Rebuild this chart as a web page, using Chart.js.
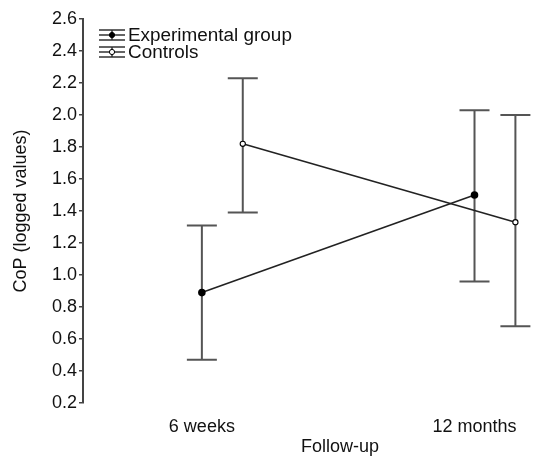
<!DOCTYPE html>
<html>
<head>
<meta charset="utf-8">
<script src="https://cdn.jsdelivr.net/npm/chart.js@4"></script>
<style>
  html, body { margin: 0; padding: 0; background: #fff; }
  #wrap { width: 533px; height: 457px; }
</style>
</head>
<body>
<div id="wrap"><canvas id="grafico-cop"></canvas></div>
<script>
// dados
const followUp = ['6 weeks', '12 months'];
const groupOffset = [0, 0.15];   // deslocamento horizontal de cada grupo
const expMean = [0.89, 1.50];
const expLow = [0.47, 0.96];
const expHigh = [1.31, 2.03];
const ctrlMean = [1.82, 1.33];
const ctrlLow = [1.39, 0.68];
const ctrlHigh = [2.23, 2.00];
const yTicks = [0.2, 0.4, 0.6, 0.8, 1.0, 1.2, 1.4, 1.6, 1.8, 2.0, 2.2, 2.4, 2.6];

const FONT = 'Liberation Sans, Arial, sans-serif';
const ink = '#222';
const barColor = '#555';

function pts(mean, off) {
    return mean.map((v, i) => ({ x: i + off, y: v }));
}

const data = {
    datasets: [
        {
            label: 'Experimental group',
            data: pts(expMean, groupOffset[0]),
            low: expLow, high: expHigh,
            borderColor: ink,
            borderWidth: 1.6,
            pointRadius: 3,
            pointBackgroundColor: '#000',
            pointBorderColor: '#000',
            showLine: true,
            fill: false
        },
        {
            label: 'Controls',
            data: pts(ctrlMean, groupOffset[1]),
            low: ctrlLow, high: ctrlHigh,
            borderColor: ink,
            borderWidth: 1.6,
            pointRadius: 2.6,
            pointBackgroundColor: '#fff',
            pointBorderColor: '#000',
            pointBorderWidth: 1.1,
            showLine: true,
            fill: false
        }
    ]
};

// barras de erro desenhadas com as escalas do grafico
const errorBars = {
    id: 'errorBars',
    beforeDatasetsDraw(chart) {
        const { ctx, scales: { x, y } } = chart;
        ctx.save();
        ctx.strokeStyle = barColor;
        ctx.lineWidth = 2;
        chart.data.datasets.forEach(ds => {
            ds.data.forEach((p, i) => {
                const px = x.getPixelForValue(p.x);
                const yl = y.getPixelForValue(ds.low[i]);
                const yh = y.getPixelForValue(ds.high[i]);
                ctx.beginPath();
                ctx.moveTo(px, yl); ctx.lineTo(px, yh);
                ctx.moveTo(px - 15, yl); ctx.lineTo(px + 15, yl);
                ctx.moveTo(px - 15, yh); ctx.lineTo(px + 15, yh);
                ctx.stroke();
            });
        });
        ctx.restore();
    }
};

// legenda dentro da area + titulo do eixo x
const legendaInterna = {
    id: 'legendaInterna',
    afterDraw(chart) {
        const { ctx } = chart;
        ctx.save();
        ctx.font = '18px ' + FONT;
        ctx.fillStyle = '#111';
        ctx.textBaseline = 'middle';
        chart.data.datasets.forEach((ds, k) => {
            const cy = 35 + k * 17;
            const cx = 112;
            ctx.strokeStyle = '#333';
            ctx.lineWidth = 1.5;
            ctx.beginPath();
            ctx.moveTo(cx - 13, cy - 5); ctx.lineTo(cx + 13, cy - 5);
            ctx.moveTo(cx - 13, cy); ctx.lineTo(cx + 13, cy);
            ctx.moveTo(cx - 13, cy + 5); ctx.lineTo(cx + 13, cy + 5);
            ctx.moveTo(cx, cy - 5); ctx.lineTo(cx, cy + 5);
            ctx.stroke();
            ctx.beginPath();
            ctx.arc(cx, cy, 2.6, 0, Math.PI * 2);
            ctx.fillStyle = ds.pointBackgroundColor;
            ctx.fill();
            ctx.strokeStyle = '#000';
            ctx.lineWidth = 1;
            ctx.stroke();
            ctx.fillStyle = '#111';
            // texto um pouco esticado como no original
            ctx.save();
            ctx.translate(128, cy + 1);
            ctx.scale(1.05, 1);
            ctx.fillText(ds.label, 0, 0);
            ctx.restore();
        });
        ctx.textAlign = 'center';
        ctx.fillText('Follow-up', 340, 447);
        ctx.restore();
    }
};

const options = {
    responsive: true,
    maintainAspectRatio: false,
    animation: false,
    layout: { padding: { top: 19, right: 0, bottom: 0, left: 0 } },
    plugins: {
        legend: { display: false },
        tooltip: { enabled: false }
    },
    scales: {
        x: {
            type: 'linear',
            min: -0.436,
            max: 1.194,
            afterBuildTicks: (s) => { s.ticks = followUp.map((_, i) => ({ value: i })); },
            afterFit: (s) => { s.height = 54; },
            grid: { display: false },
            border: { display: false },
            ticks: {
                color: '#111',
                font: { family: FONT, size: 18 },
                padding: 5,
                maxRotation: 0,
                callback: (v) => followUp[v]
            }
        },
        y: {
            min: 0.2,
            max: 2.6,
            afterBuildTicks: (s) => { s.ticks = yTicks.map(v => ({ value: v })); },
            afterFit: (s) => { s.width = 83; },
            grid: {
                drawOnChartArea: false,
                drawTicks: true,
                tickLength: 4,
                color: '#444',
                lineWidth: 1.5
            },
            border: { display: true, color: '#444', width: 2 },
            ticks: {
                color: '#111',
                font: { family: FONT, size: 18 },
                padding: 2,
                callback: (v) => v.toFixed(1)
            },
            title: {
                display: true,
                text: 'CoP (logged values)',
                color: '#111',
                font: { family: FONT, size: 18 },
                padding: { top: 10, bottom: 0 }
            }
        }
    }
};

new Chart(document.getElementById('grafico-cop'), {
    type: 'scatter',
    data: data,
    options: options,
    plugins: [errorBars, legendaInterna]
});
</script>
</body>
</html>
